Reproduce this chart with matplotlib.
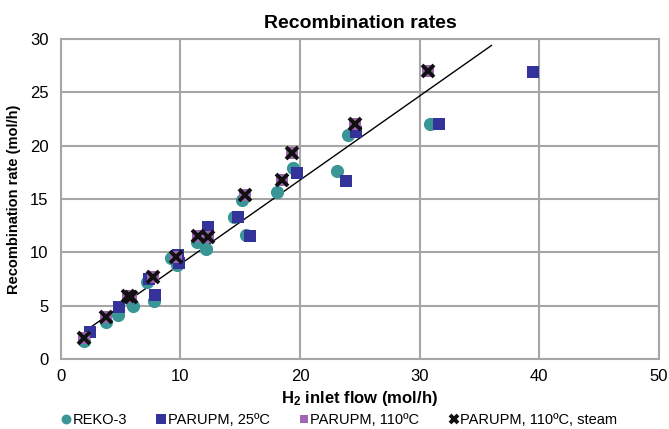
import matplotlib.pyplot as plt

plt.rcParams['font.family'] = ['Liberation Sans', 'DejaVu Sans']
plt.rcParams['mathtext.fontset'] = 'custom'
plt.rcParams['mathtext.rm'] = 'Liberation Sans:bold'
plt.rcParams['mathtext.default'] = 'rm'

# REKO-3
reko_x = [1.9, 3.8, 4.8, 5.6, 6.0, 7.8, 7.2, 9.7, 9.2, 11.4, 12.1, 14.5, 15.1, 15.5, 18.1, 19.4, 23.1, 24.0, 30.9]
reko_y = [1.7, 3.5, 4.1, 5.7, 5.0, 5.4, 7.2, 8.8, 9.5, 11.0, 10.3, 13.3, 14.9, 11.6, 15.7, 17.9, 17.6, 21.0, 22.0]

# PARUPM, 25ºC
p25_x = [2.4, 4.9, 5.8, 7.9, 7.4, 9.8, 9.9, 12.3, 14.8, 15.8, 19.7, 23.8, 24.7, 31.6, 39.5]
p25_y = [2.5, 4.9, 5.9, 6.0, 7.5, 9.8, 9.0, 12.4, 13.3, 11.5, 17.4, 16.7, 21.3, 22.0, 26.9]

# PARUPM, 110ºC
p110_x = [1.9, 3.8, 5.6, 5.9, 7.7, 9.6, 11.5, 12.3, 15.4, 18.5, 19.3, 24.6, 30.7]
p110_y = [2.0, 3.9, 5.9, 5.8, 7.7, 9.6, 11.5, 11.4, 15.4, 16.8, 19.3, 22.0, 27.0]

# PARUPM, 110ºC, steam
steam_x = [1.9, 3.8, 5.6, 5.9, 7.7, 9.6, 11.5, 12.3, 15.4, 18.5, 19.3, 24.6, 30.7]
steam_y = [2.0, 3.9, 5.9, 5.8, 7.7, 9.6, 11.5, 11.4, 15.4, 16.8, 19.3, 22.0, 27.0]

# reference line
line_x = [2.0, 36.0]
line_y = [2.6, 29.4]

fig = plt.figure(figsize=(6.69, 4.29), dpi=100)
ax = fig.add_axes([0.091, 0.163, 0.894, 0.746])

ax.plot(line_x, line_y, color='black', lw=1.0, zorder=2)
ax.plot(reko_x, reko_y, ls='none', marker='o', ms=9.5, mew=0, color='#3a9696', label='REKO-3', zorder=3)
ax.plot(p25_x, p25_y, ls='none', marker='s', ms=9, mew=0, color='#333399', label='PARUPM, 25ºC', zorder=4)
ax.plot(p110_x, p110_y, ls='none', marker='s', ms=8.5, mew=0, color='#a066b0', label='PARUPM, 110ºC', zorder=5)
ax.plot(steam_x, steam_y, ls='none', marker='x', ms=8.5, mew=2.8, color='#111111',
        label='PARUPM, 110ºC, steam', zorder=6)

ax.set_xlim(0, 50)
ax.set_ylim(0, 30)
ax.set_xticks(range(0, 51, 10))
ax.set_yticks(range(0, 31, 5))
ax.grid(True, color='#a6a6a6', lw=1.5)
ax.set_axisbelow(True)
for s in ax.spines.values():
    s.set_color('#a6a6a6')
    s.set_linewidth(1.5)
ax.tick_params(length=0, labelsize=12)
ax.tick_params(axis='x', pad=7)
ax.tick_params(axis='y', pad=9)

ax.set_title('Recombination rates', fontsize=14, fontweight='bold', pad=8)
ax.set_xlabel('H$_2$ inlet flow (mol/h)', fontsize=12, fontweight='bold', labelpad=4)
ax.set_ylabel('Recombination rate (mol/h)', fontsize=10.5, fontweight='bold', labelpad=6)

leg = ax.legend(loc='upper center', bbox_to_anchor=(0.465, -0.15), ncol=4, frameon=False,
                fontsize=10.5, handletextpad=0.1, handlelength=0.7, columnspacing=2.0,
                markerscale=0.75, borderaxespad=0)

fig.savefig('out.png', dpi=100)
